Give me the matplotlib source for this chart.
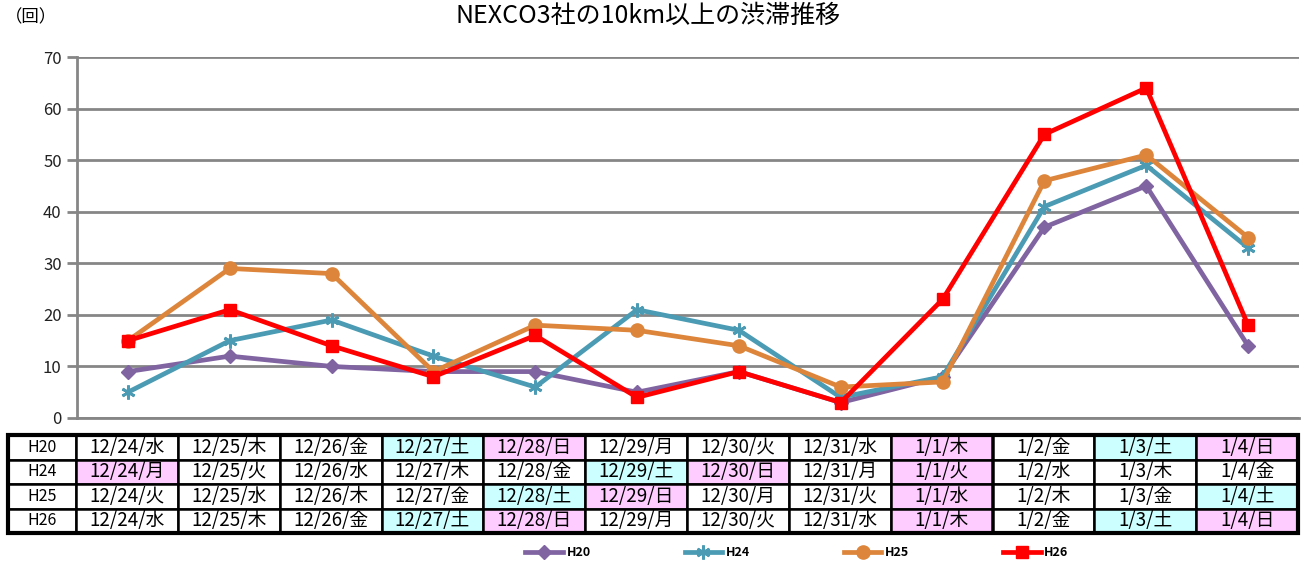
import matplotlib
matplotlib.use('Agg')
import matplotlib.pyplot as plt
from matplotlib.patches import Rectangle

plt.rcParams['font.family'] = ['Noto Sans CJK JP', 'DejaVu Sans']

# --- data ---
series_names = ['H20', 'H24', 'H25', 'H26']
h20 = [9, 12, 10, 9, 9, 5, 9, 3, 8, 37, 45, 14]
h24 = [5, 15, 19, 12, 6, 21, 17, 4, 8, 41, 49, 33]
h25 = [15, 29, 28, 9, 18, 17, 14, 6, 7, 46, 51, 35]
h26 = [15, 21, 14, 8, 16, 4, 9, 3, 23, 55, 64, 18]

dates_h20 = ['12/24/水', '12/25/木', '12/26/金', '12/27/土', '12/28/日', '12/29/月',
             '12/30/火', '12/31/水', '1/1/木', '1/2/金', '1/3/土', '1/4/日']
dates_h24 = ['12/24/月', '12/25/火', '12/26/水', '12/27/木', '12/28/金', '12/29/土',
             '12/30/日', '12/31/月', '1/1/火', '1/2/水', '1/3/木', '1/4/金']
dates_h25 = ['12/24/火', '12/25/水', '12/26/木', '12/27/金', '12/28/土', '12/29/日',
             '12/30/月', '12/31/火', '1/1/水', '1/2/木', '1/3/金', '1/4/土']
dates_h26 = ['12/24/水', '12/25/木', '12/26/金', '12/27/土', '12/28/日', '12/29/月',
             '12/30/火', '12/31/水', '1/1/木', '1/2/金', '1/3/土', '1/4/日']
holidays = ['12/24/月', '1/1/']

yticks = [0, 10, 20, 30, 40, 50, 60, 70]

colors = ['#8064A2', '#4A9BB3', '#DD853A', '#FF0000']
markers = ['D', (6, 2, 0), 'o', 's']
msizes = [7.5, 10, 9.5, 8.5]

fig = plt.figure(figsize=(13.06, 5.86), dpi=100)
ax = fig.add_axes([77 / 1306, 1 - 418 / 586, 1222 / 1306, 361 / 586])

x = list(range(len(h20)))
for name, vals, c, m, ms in zip(series_names, [h20, h24, h25, h26], colors, markers, msizes):
    mew = 2 if m == (6, 2, 0) else 1
    ax.plot(x, vals, color=c, lw=3.4, marker=m, markersize=ms,
            markeredgewidth=mew, markeredgecolor=c, markerfacecolor=c,
            label=name, clip_on=False, zorder=3)

ax.set_xlim(-0.5, len(x) - 0.5)
ax.set_ylim(0, 70)
ax.set_yticks(yticks)
ax.set_xticks([])
ax.grid(axis='y', color='#868686', lw=2)
ax.set_axisbelow(True)
for s in ['top', 'right']:
    ax.spines[s].set_visible(False)
ax.spines['left'].set_color('#868686')
ax.spines['left'].set_linewidth(2)
ax.spines['bottom'].set_color('#868686')
ax.spines['bottom'].set_linewidth(2)
ax.tick_params(axis='y', colors='#868686', width=2, length=7, labelsize=12,
               labelcolor='#222222', pad=4)

fig.text(0.496, 0.972, 'NEXCO3社の10km以上の渋滞推移', ha='center', va='center', fontsize=18)
fig.text(0.004, 0.970, '（回）', ha='left', va='center', fontsize=12.5)

# --- data table below the chart ---
def cell_color(d):
    if d.endswith('土'):
        return '#CCFFFF'
    if d.endswith('日') or any(d.startswith(h) or d == h for h in holidays):
        return '#FFCCFF'
    return 'white'

rows = [dates_h20, dates_h24, dates_h25, dates_h26]
tab_left, tab_right, tab_top, tab_bot = 8, 1298, 435, 533
label_w = 68
col_w = (tab_right - tab_left - label_w) / 12
row_h = (tab_bot - tab_top) / 4

def fx(px):
    return px / 1306

def fy(py):
    return 1 - py / 586

for r, (name, row) in enumerate(zip(series_names, rows)):
    y0 = tab_top + r * row_h
    fig.patches.append(Rectangle((fx(tab_left), fy(y0 + row_h)), fx(label_w), row_h / 586,
                                 facecolor='white', edgecolor='black', lw=1.8,
                                 transform=fig.transFigure, figure=fig))
    fig.text(fx(tab_left + label_w / 2), fy(y0 + row_h / 2), name, ha='center', va='center',
             fontsize=11.5)
    for c, d in enumerate(row):
        x0 = tab_left + label_w + c * col_w
        fig.patches.append(Rectangle((fx(x0), fy(y0 + row_h)), fx(col_w), row_h / 586,
                                     facecolor=cell_color(d), edgecolor='black', lw=1.8,
                                     transform=fig.transFigure, figure=fig))
        fig.text(fx(x0 + col_w / 2), fy(y0 + row_h / 2), d, ha='center', va='center',
                 fontsize=13.5)

fig.patches.append(Rectangle((fx(tab_left), fy(tab_bot)), fx(tab_right - tab_left),
                             (tab_bot - tab_top) / 586, facecolor='none', edgecolor='black',
                             lw=3, transform=fig.transFigure, figure=fig))

leg = fig.legend(loc='center', bbox_to_anchor=(fx(797), fy(553)), ncol=4, frameon=False,
                 handlelength=3, handletextpad=0.3, columnspacing=7.5,
                 prop={'weight': 'bold', 'size': 9})

fig.savefig('out.png', dpi=100)
